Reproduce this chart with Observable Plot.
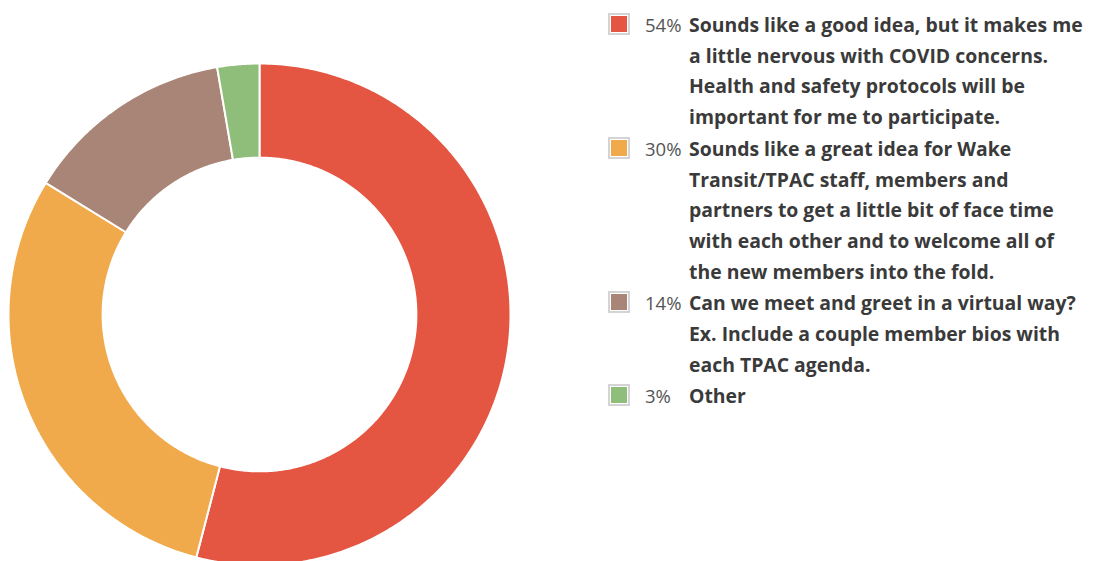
<!DOCTYPE html>
<html>
<head>
<meta charset="utf-8">
<script src="https://cdn.jsdelivr.net/npm/d3@7"></script>
<script src="https://cdn.jsdelivr.net/npm/@observablehq/plot@0.6"></script>
<style>
  html, body { margin: 0; padding: 0; background: #fff; }
  #wrap { position: relative; width: 1093px; height: 561px; overflow: hidden; font-family: "Open Sans", sans-serif; }
  #chart { position: absolute; left: 0; top: 0; }
  #legend { position: absolute; left: 608px; top: 10px; width: 485px; }
  .item { display: flex; align-items: flex-start; margin-bottom: 1px; }
  .sw { width: 18px; height: 18px; border: 2px solid #d4d4d4; box-sizing: content-box; margin-top: 3px; position: relative; }
  .sw i { position: absolute; left: 1px; top: 1px; right: 1px; bottom: 1px; }
  .pct { width: 44px; margin-left: 15px; font-size: 18.5px; line-height: 30.7px; color: #555; font-weight: 400; }
  .lab { width: 400px; font-size: 19.4px; line-height: 30.7px; color: #3a3a3a; font-weight: 700; white-space: normal; }
</style>
</head>
<body>
<div id="wrap">
  <div id="chart"></div>
  <div id="legend"></div>
</div>
<script>
// Data
const categories = [
  "Sounds like a good idea, but it makes me a little nervous with COVID concerns. Health and safety protocols will be important for me to participate.",
  "Sounds like a great idea for Wake Transit/TPAC staff, members and partners to get a little bit of face time with each other and to welcome all of the new members into the fold.",
  "Can we meet and greet in a virtual way? Ex. Include a couple member bios with each TPAC agenda.",
  "Other"
];
const counts = [20, 11, 5, 1];
const percentLabels = ["54%", "30%", "14%", "3%"];
const colors = ["#e55642", "#f0aa4c", "#a98577", "#8fbe7b"];

const innerRatio = 0.625;

// Build slice outlines from the pie layout
const pie = d3.pie().sort(null).value(d => d.value).startAngle(0).endAngle(2 * Math.PI);
const arcs = pie(categories.map((c, i) => ({category: c, value: counts[i]})));
const points = [];
arcs.forEach(a => {
  const n = Math.max(8, Math.ceil((a.endAngle - a.startAngle) * 120));
  for (let k = 0; k <= n; k++) {
    const t = a.startAngle + (a.endAngle - a.startAngle) * k / n;
    points.push({category: a.data.category, x: Math.sin(t), y: Math.cos(t)});
  }
  for (let k = n; k >= 0; k--) {
    const t = a.startAngle + (a.endAngle - a.startAngle) * k / n;
    points.push({category: a.data.category, x: innerRatio * Math.sin(t), y: innerRatio * Math.cos(t)});
  }
});

const chart = Plot.plot({
  width: 560,
  height: 561,
  margin: 0,
  x: {domain: [-1, 1], range: [8, 510], axis: null},
  y: {domain: [-1, 1], range: [565, 63], axis: null},
  color: {domain: categories, range: colors},
  marks: [
    Plot.line(points, {x: "x", y: "y", z: "category", fill: "category", stroke: "white", strokeWidth: 2, curve: "linear-closed"})
  ]
});
document.getElementById("chart").appendChild(chart);

const legend = document.getElementById("legend");
categories.forEach((c, i) => {
  const item = document.createElement("div");
  item.className = "item";
  const sw = document.createElement("div");
  sw.className = "sw";
  const inner = document.createElement("i");
  inner.style.background = colors[i];
  sw.appendChild(inner);
  const pct = document.createElement("div");
  pct.className = "pct";
  pct.textContent = percentLabels[i];
  const lab = document.createElement("div");
  lab.className = "lab";
  lab.textContent = c;
  item.appendChild(sw);
  item.appendChild(pct);
  item.appendChild(lab);
  legend.appendChild(item);
});
</script>
</body>
</html>
